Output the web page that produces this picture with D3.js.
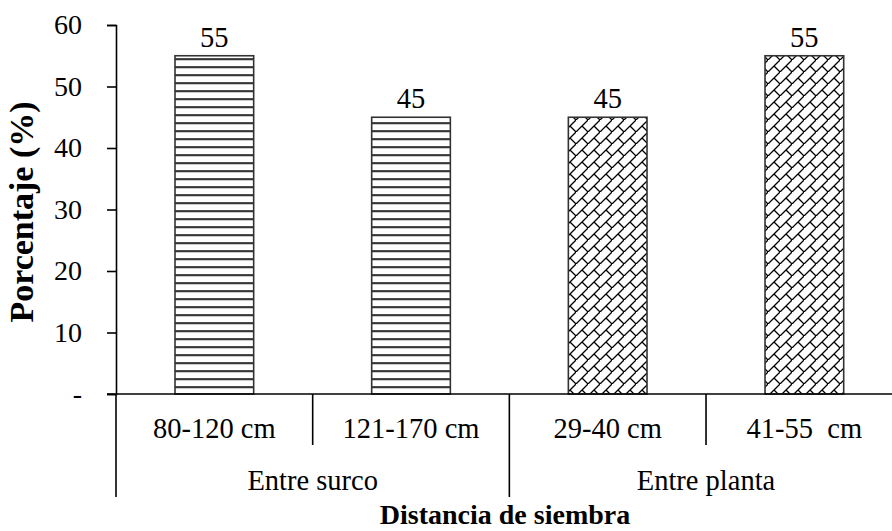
<!DOCTYPE html>
<html>
<head>
<meta charset="utf-8">
<script src="https://cdn.jsdelivr.net/npm/d3@7/dist/d3.min.js"></script>
<style>
  html, body { margin: 0; padding: 0; background: #fff; }
  svg { display: block; }
</style>
</head>
<body>
<svg id="chart" width="892" height="531"></svg>
<script>
// Sowing distance categories, their group and percentage
const categories = ["80-120 cm", "121-170 cm", "29-40 cm", "41-55  cm"];
const groups = ["Entre surco", "Entre surco", "Entre planta", "Entre planta"];
const values = [55, 45, 45, 55];
const patterns = ["horiz", "horiz", "brick", "brick"];
const yTicks = [0, 10, 20, 30, 40, 50, 60];

const FONT = "'Times New Roman', 'Liberation Serif', 'DejaVu Serif', serif";
const FS = 28.5;

const svg = d3.select("#chart");
const plotLeft = 116, plotRight = 902.7, plotTop = 25, plotBase = 394;
const catDrop = 445, groupDrop = 497;

const x = d3.scaleBand().domain(categories).range([plotLeft, plotRight]).paddingInner(0).paddingOuter(0);
const y = d3.scaleLinear().domain([0, 60]).range([plotBase, plotTop]);

// Fill patterns
const defs = svg.append("defs");
const ph = defs.append("pattern").attr("id", "horiz")
  .attr("patternUnits", "userSpaceOnUse").attr("width", 8).attr("height", 8)
  .attr("y", 2.3);
ph.append("rect").attr("width", 8).attr("height", 8).attr("fill", "#fff");
ph.append("line").attr("x1", 0).attr("x2", 8).attr("y1", 0).attr("y2", 0)
  .attr("stroke", "#000").attr("stroke-width", 3.4);

const pb = defs.append("pattern").attr("id", "brick")
  .attr("patternUnits", "userSpaceOnUse").attr("width", 12).attr("height", 12);
pb.append("rect").attr("width", 12).attr("height", 12).attr("fill", "#fff");
pb.append("path")
  .attr("d", "M-1,13 L13,-1 M6,6 L13,13 M-1,-1 L0,0")
  .attr("stroke", "#000").attr("stroke-width", 1.3).attr("fill", "none");

// Bars
const barW = x.bandwidth() * 0.4;
svg.selectAll("rect.bar").data(values).join("rect")
  .attr("class", "bar")
  .attr("x", (d, i) => x(categories[i]) + (x.bandwidth() - barW) / 2)
  .attr("y", d => y(d))
  .attr("width", barW)
  .attr("height", d => y(0) - y(d))
  .attr("fill", (d, i) => `url(#${patterns[i]})`)
  .attr("stroke", "#333").attr("stroke-width", 1.6);

// Value labels
svg.selectAll("text.val").data(values).join("text")
  .attr("class", "val")
  .attr("x", (d, i) => x(categories[i]) + x.bandwidth() / 2)
  .attr("y", d => y(d) - 9)
  .attr("text-anchor", "middle")
  .attr("font-family", FONT).attr("font-size", FS)
  .text(d => d);

// Y axis
const yAxis = d3.axisLeft(y).tickValues(yTicks).tickSize(9).tickSizeOuter(9)
  .tickFormat(d => d === 0 ? "-" : d);
const gy = svg.append("g").attr("transform", `translate(${plotLeft},0)`).call(yAxis)
  .attr("font-family", FONT).attr("font-size", 28);
gy.select(".domain").attr("stroke", "#000").attr("stroke-width", 1.6);
gy.selectAll(".tick line").attr("stroke", "#000").attr("stroke-width", 1.6);
gy.selectAll(".tick text").attr("x", -34).attr("fill", "#000");

// X axis baseline and hierarchical separators
svg.append("line").attr("x1", plotLeft - 9).attr("x2", plotRight).attr("y1", plotBase).attr("y2", plotBase)
  .attr("stroke", "#000").attr("stroke-width", 1.6);

const edges = categories.map(c => x(c)).concat([plotRight]);
edges.forEach((ex, i) => {
  const isGroup = i === 0 || i === edges.length - 1 || groups[i] !== groups[i - 1];
  svg.append("line").attr("x1", ex).attr("x2", ex)
    .attr("y1", plotBase).attr("y2", isGroup ? groupDrop : catDrop)
    .attr("stroke", "#000").attr("stroke-width", 1.6);
});

// Category labels
svg.selectAll("text.cat").data(categories).join("text")
  .attr("class", "cat")
  .attr("x", d => x(d) + x.bandwidth() / 2)
  .attr("y", 438)
  .attr("text-anchor", "middle")
  .attr("font-family", FONT).attr("font-size", FS)
  .style("white-space", "pre")
  .text(d => d);

// Group labels
const groupNames = Array.from(new Set(groups));
groupNames.forEach(g => {
  const idx = groups.map((v, i) => v === g ? i : -1).filter(i => i >= 0);
  const x0 = x(categories[idx[0]]);
  const x1 = x(categories[idx[idx.length - 1]]) + x.bandwidth();
  svg.append("text")
    .attr("x", (x0 + x1) / 2).attr("y", 490)
    .attr("text-anchor", "middle")
    .attr("font-family", FONT).attr("font-size", FS)
    .text(g);
});

// Axis titles
svg.append("text")
  .attr("x", 505).attr("y", 524)
  .attr("text-anchor", "middle")
  .attr("font-family", FONT).attr("font-size", 28).attr("font-weight", "bold")
  .text("Distancia de siembra");

svg.append("text")
  .attr("transform", "translate(33,212) rotate(-90)")
  .attr("text-anchor", "middle")
  .attr("font-family", FONT).attr("font-size", 34).attr("font-weight", "bold")
  .text("Porcentaje (%)");
</script>
</body>
</html>
